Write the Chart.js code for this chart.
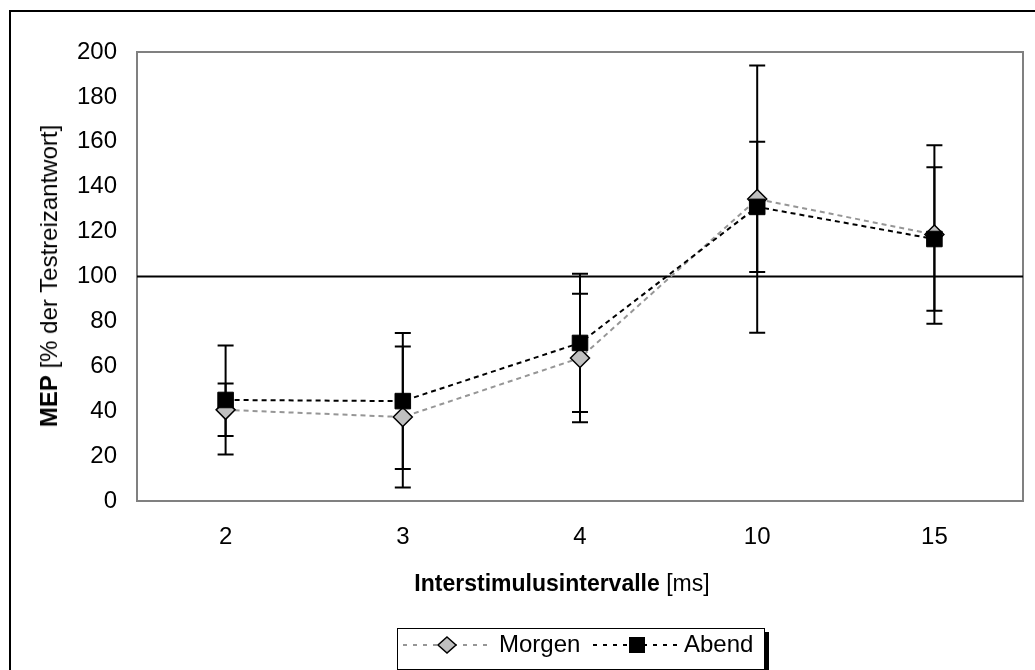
<!DOCTYPE html>
<html>
<head>
<meta charset="utf-8">
<script src="https://cdn.jsdelivr.net/npm/chart.js@4.4.1/dist/chart.umd.min.js"></script>
<style>
  body { margin: 0; background: #fff; font-family: "Liberation Sans", Arial, sans-serif; }
  #wrap { position: relative; width: 1035px; height: 670px; overflow: hidden; }
  #frame { position: absolute; left: 9px; top: 10px; width: 1100px; height: 700px; border: 2px solid #000; }
  canvas { position: absolute; left: 0; top: 0; }
  .ttl { position: absolute; font-size: 24px; line-height: 28px; white-space: nowrap; color: #000; }
  #ytitle { left: 49px; top: 276px; transform: translate(-50%, -50%) rotate(-90deg); }
  #xtitle { left: 562px; top: 583px; font-size: 23px; transform: translate(-50%, -50%); }
  #legend { position: absolute; left: 397px; top: 628px; width: 366px; height: 40px; border: 1px solid #000;
            background: #fff; box-shadow: 4px 4px 0 #000; }
  #legend svg, #legend span { position: absolute; }
  #legend span { font-size: 24px; line-height: 28px; top: 1px; }
</style>
</head>
<body>
<div id="wrap">
  <div id="frame"></div>
  <canvas id="grafico" width="1035" height="670"></canvas>
  <div class="ttl" id="ytitle"><b>MEP</b> [% der Testreizantwort]</div>
  <div class="ttl" id="xtitle"><b>Interstimulusintervalle</b> [ms]</div>
  <div id="legend">
    <svg style="left:5px;top:6px" width="88" height="20">
      <line x1="0" y1="10" x2="88" y2="10" stroke="#969696" stroke-width="2" stroke-dasharray="4,6"/>
      <path d="M44 2 L53 10 L44 18 L35 10 Z" fill="#c0c0c0" stroke="#000" stroke-width="1.5"/>
    </svg>
    <span style="left:101px">Morgen</span>
    <svg style="left:195px;top:6px" width="88" height="20">
      <line x1="0" y1="10" x2="88" y2="10" stroke="#000" stroke-width="2" stroke-dasharray="4,6"/>
      <rect x="36" y="2" width="16" height="16" fill="#000"/>
    </svg>
    <span style="left:286px">Abend</span>
  </div>
</div>
<script>
const categories = ["2", "3", "4", "10", "15"];
const morgen = [40.6, 37.4, 63.7, 134.5, 118.7];
const morgenErr = [11.7, 31.4, 28.6, 59.5, 39.8];
const abend = [45, 44.5, 70.4, 131, 116.7];
const abendErr = [24.3, 30.3, 30.8, 29, 32];
const yMin = 0, yMax = 200, yStep = 20;
const refLine = 100;

Chart.defaults.font.family = '"Liberation Sans", Arial, sans-serif';
Chart.defaults.font.size = 24;
Chart.defaults.color = "#000";

// Rahmen, 100%-Linie und Fehlerbalken
const extras = {
  id: "extras",
  beforeDatasetsDraw(chart) {
    const { ctx, chartArea: a, scales: { y } } = chart;
    ctx.save();
    ctx.strokeStyle = "#808080";
    ctx.lineWidth = 2;
    ctx.strokeRect(a.left, a.top, a.right - a.left, a.bottom - a.top);

    const yr = y.getPixelForValue(refLine);
    ctx.strokeStyle = "#000";
    ctx.beginPath();
    ctx.moveTo(a.left, yr);
    ctx.lineTo(a.right, yr);
    ctx.stroke();

    chart.data.datasets.forEach((ds, i) => {
      const meta = chart.getDatasetMeta(i);
      meta.data.forEach((pt, j) => {
        const top = y.getPixelForValue(ds.data[j] + ds.errors[j]);
        const bot = y.getPixelForValue(ds.data[j] - ds.errors[j]);
        ctx.beginPath();
        ctx.moveTo(pt.x, top); ctx.lineTo(pt.x, bot);
        ctx.moveTo(pt.x - 8, top); ctx.lineTo(pt.x + 8, top);
        ctx.moveTo(pt.x - 8, bot); ctx.lineTo(pt.x + 8, bot);
        ctx.stroke();
      });
    });
    ctx.restore();
  }
};

new Chart(document.getElementById("grafico"), {
  type: "line",
  data: {
    labels: categories,
    datasets: [
      {
        label: "Morgen",
        data: morgen,
        errors: morgenErr,
        borderColor: "#969696",
        borderWidth: 2,
        borderDash: [5, 4],
        pointStyle: "rectRot",
        pointRadius: 9.5,
        pointBackgroundColor: "#c0c0c0",
        pointBorderColor: "#000",
        pointBorderWidth: 1.5,
        tension: 0,
        order: 2,
      },
      {
        label: "Abend",
        data: abend,
        errors: abendErr,
        borderColor: "#000",
        borderWidth: 2,
        borderDash: [5, 4],
        pointStyle: "rect",
        pointRadius: 11,
        pointBackgroundColor: "#000",
        pointBorderColor: "#000",
        pointBorderWidth: 1,
        tension: 0,
        order: 1,
      },
    ],
  },
  options: {
    responsive: false,
    animation: false,
    layout: { padding: { top: 52, right: 8, left: 0, bottom: 0 } },
    plugins: { legend: { display: false }, tooltip: { enabled: false } },
    scales: {
      x: {
        offset: true,
        grid: { display: false, drawTicks: false },
        border: { display: false },
        ticks: { padding: 22 },
        afterFit: (s) => { s.height = 169; },
      },
      y: {
        min: yMin,
        max: yMax,
        grid: { display: false, drawTicks: false },
        border: { display: false },
        ticks: { stepSize: yStep, padding: 20 },
        afterFit: (s) => { s.width = 137; },
      },
    },
  },
  plugins: [extras],
});
</script>
</body>
</html>
